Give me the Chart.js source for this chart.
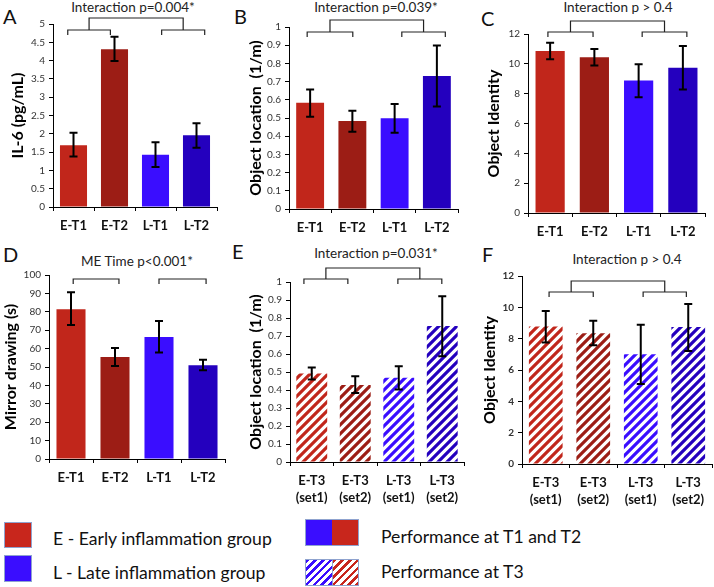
<!DOCTYPE html>
<html><head><meta charset="utf-8">
<script src="https://cdn.jsdelivr.net/npm/chart.js@4.4.1/dist/chart.umd.min.js"></script>
<style>
html,body{margin:0;padding:0;background:#fff;}
#wrap{position:relative;width:714px;height:587px;overflow:hidden;font-family:Lato,'Open Sans',sans-serif;color:#111;}
#wrap canvas{position:absolute;left:0;top:0;}
.t{position:absolute;white-space:nowrap;transform:translate(-50%,-50%);font-size:13.5px;color:#222;}
.L{position:absolute;font-size:20px;line-height:20px;color:#111;}
.lg{position:absolute;font-size:17.6px;line-height:20px;white-space:nowrap;color:#111;}
.box{position:absolute;box-sizing:border-box;border:1px solid #8FA3CF;}
</style></head><body>
<div id="wrap">
  <div class="L" style="left:3px;top:6px">A</div>
  <div class="L" style="left:234px;top:6px">B</div>
  <div class="L" style="left:481px;top:8px">C</div>
  <div class="L" style="left:3px;top:244px">D</div>
  <div class="L" style="left:232px;top:241px">E</div>
  <div class="L" style="left:482px;top:244px">F</div>
  <div class="t" style="left:133px;top:7px">Interaction p=0.004*</div>
  <div class="t" style="left:376px;top:7px">Interaction p=0.039*</div>
  <div class="t" style="left:618px;top:7px">Interaction p &gt; 0.4</div>
  <div class="t" style="left:137px;top:261px">ME Time p&lt;0.001*</div>
  <div class="t" style="left:376px;top:253px">Interaction p=0.031*</div>
  <div class="t" style="left:627px;top:259px">Interaction p &gt; 0.4</div>

  <div class="box" style="left:4px;top:522px;width:28px;height:26px;background:#C8261C"></div>
  <div class="lg" style="left:53px;top:529px">E - Early inflammation group</div>
  <div class="box" style="left:4px;top:555px;width:28px;height:27px;background:#3A0DFF"></div>
  <div class="lg" style="left:53px;top:563px">L - Late inflammation group</div>
  <div class="box" style="left:305px;top:519px;width:54px;height:27px;background:linear-gradient(90deg,#3A0DFF 50%,#C8261C 50%)"></div>
  <div class="lg" style="left:381px;top:527px">Performance at T1 and T2</div>
  <div class="box" style="left:305px;top:559px;width:27px;height:27px;border-right:none;background:repeating-linear-gradient(135deg,#3A0DFF 0 2.5px,#fff 2.5px 5.5px)"></div>
  <div class="box" style="left:332px;top:559px;width:27px;height:27px;background:repeating-linear-gradient(135deg,#C8261C 0 2.5px,#fff 2.5px 5.5px)"></div>
  <div class="lg" style="left:381px;top:562px">Performance at T3</div>
</div>
<script>
// ---------- data ----------
const catsT12 = ['E-T1', 'E-T2', 'L-T1', 'L-T2'];
const catsT3 = [['E-T3', '(set1)'], ['E-T3', '(set2)'], ['L-T3', '(set1)'], ['L-T3', '(set2)']];

const il6Mean = [1.69, 4.31, 1.43, 1.96];
const il6Lo   = [1.38, 3.99, 1.09, 1.62];
const il6Hi   = [2.03, 4.65, 1.77, 2.29];

const locMean = [0.584, 0.483, 0.498, 0.731];
const locLo   = [0.507, 0.425, 0.419, 0.563];
const locHi   = [0.657, 0.540, 0.577, 0.899];

const idMean = [10.86, 10.44, 8.88, 9.73];
const idLo   = [10.31, 9.88, 7.76, 8.28];
const idHi   = [11.42, 11.00, 9.98, 11.20];

const mirMean = [81.4, 55.5, 66.3, 51.0];
const mirLo   = [72.8, 50.6, 57.9, 48.3];
const mirHi   = [90.6, 60.3, 75.0, 53.9];

const loc3Mean = [0.491, 0.428, 0.468, 0.755];
const loc3Lo   = [0.458, 0.384, 0.403, 0.587];
const loc3Hi   = [0.525, 0.476, 0.532, 0.921];

const id3Mean = [8.77, 8.35, 7.01, 8.74];
const id3Lo   = [7.75, 7.58, 5.10, 7.22];
const id3Hi   = [9.76, 9.14, 8.89, 10.22];

const yTicksMax = {A: 5, B: 1, C: 12, D: 100, E: 1, F: 12};
const yTicksStep = {A: 0.5, B: 0.1, C: 2, D: 10, E: 0.1, F: 2};

// ---------- styling ----------
const barColors = ['#C1261B', '#9C1D15', '#3A0DFF', '#2400BE'];
Chart.defaults.font.family = 'Lato, "Open Sans", sans-serif';

function hatch(color) {
  const s = 9, c = document.createElement('canvas');
  c.width = s; c.height = s;
  const g = c.getContext('2d');
  g.fillStyle = '#fff'; g.fillRect(0, 0, s, s);
  g.strokeStyle = color; g.lineWidth = 3.2;
  g.beginPath();
  g.moveTo(-1, s + 1); g.lineTo(s + 1, -1);
  g.moveTo(-2, 2); g.lineTo(2, -2);
  g.moveTo(s - 2, s + 2); g.lineTo(s + 2, s - 2);
  g.stroke();
  return g.createPattern(c, 'repeat');
}

const XH = 44;
const panels = [
  {key:'A', cats:catsT12, mean:il6Mean, lo:il6Lo, hi:il6Hi, title:'IL-6 (pg/mL)', plot:{l:53,r:217,t:24,b:207}, axisLeft:8, bp:0.66, hatched:false, yBold:false,
   br:{l:[-0.14,0.9], r:[2.15,3.2], dy:6, top:-6}},
  {key:'B', cats:catsT12, mean:locMean, lo:locLo, hi:locHi, title:'Object location  (1/m)', plot:{l:289,r:458,t:27,b:209}, axisLeft:246, bp:0.66, hatched:false, yBold:false,
   br:{l:[-0.07,1.01], r:[2.17,3.2], dy:5, top:-7}},
  {key:'C', cats:catsT12, mean:idMean, lo:idLo, hi:idHi, title:'Object Identity', plot:{l:528,r:705,t:34,b:213}, axisLeft:484, bp:0.66, hatched:false, yBold:false,
   br:{l:[-0.05,0.97], r:[2.08,3.09], dy:-2, top:-13}},
  {key:'D', cats:catsT12, mean:mirMean, lo:mirLo, hi:mirHi, title:'Mirror drawing (s)', plot:{l:49,r:225,t:275,b:459}, axisLeft:1, bp:0.66, hatched:false, yBold:false,
   br:{l:[0.05,1.09], r:[2.0,3.07], dy:4, top:null}},
  {key:'E', cats:catsT3, mean:loc3Mean, lo:loc3Lo, hi:loc3Hi, title:'Object location  (1/m)', plot:{l:290,r:464,t:282,b:462}, axisLeft:246, bp:0.71, hatched:true, yBold:false,
   br:{l:[-0.18,0.83], r:[1.98,2.99], dy:-3, top:-14}},
  {key:'F', cats:catsT3, mean:id3Mean, lo:id3Lo, hi:id3Hi, title:'Object Identity', plot:{l:522,r:712,t:276,b:464}, axisLeft:480, bp:0.71, hatched:true, yBold:true,
   br:{l:[0.07,1.0], r:[2.05,2.96], dy:16, top:5}}
];

function extrasPlugin(p) {
  return {
    id: 'extras' + p.key,
    afterDatasetsDraw(chart) {
      const ctx = chart.ctx, ys = chart.scales.y, xs = chart.scales.x;
      const meta = chart.getDatasetMeta(0);
      ctx.save();
      ctx.strokeStyle = '#000'; ctx.lineWidth = 2;
      meta.data.forEach((bar, i) => {
        const x = bar.x, y1 = ys.getPixelForValue(p.lo[i]), y2 = ys.getPixelForValue(p.hi[i]);
        ctx.beginPath();
        ctx.moveTo(x, y1); ctx.lineTo(x, y2);
        ctx.moveTo(x - 4, y1); ctx.lineTo(x + 4, y1);
        ctx.moveTo(x - 4, y2); ctx.lineTo(x + 4, y2);
        ctx.stroke();
      });
      const top = chart.chartArea.top, b = p.br;
      const yb = top + b.dy, tick = 5;
      ctx.strokeStyle = '#222'; ctx.lineWidth = 1.2;
      const mids = [];
      [b.l, b.r].forEach(seg => {
        const x1 = xs.getPixelForValue(seg[0]), x2 = xs.getPixelForValue(seg[1]);
        ctx.beginPath();
        ctx.moveTo(x1, yb + tick); ctx.lineTo(x1, yb); ctx.lineTo(x2, yb); ctx.lineTo(x2, yb + tick);
        ctx.stroke();
        mids.push((x1 + x2) / 2);
      });
      if (b.top !== null) {
        const yt = top + b.top;
        ctx.beginPath();
        ctx.moveTo(mids[0], yb); ctx.lineTo(mids[0], yt); ctx.lineTo(mids[1], yt); ctx.lineTo(mids[1], yb);
        ctx.stroke();
      }
      ctx.restore();
    }
  };
}

const wrap = document.getElementById('wrap');
panels.forEach(p => {
  const cv = document.createElement('canvas');
  cv.width = 714; cv.height = 587;
  cv.style.width = '714px'; cv.style.height = '587px';
  wrap.appendChild(cv);
  const yW = p.plot.l - p.axisLeft;
  const colors = p.hatched ? barColors.map(hatch) : barColors;
  new Chart(cv, {
    type: 'bar',
    data: {labels: p.cats, datasets: [{data: p.mean, backgroundColor: colors, borderWidth: 0, barPercentage: p.bp, categoryPercentage: 1}]},
    options: {
      responsive: false, animation: false,
      layout: {padding: {left: p.axisLeft, right: 714 - p.plot.r, top: p.plot.t, bottom: 587 - p.plot.b - XH}},
      plugins: {legend: {display: false}, tooltip: {enabled: false}, title: {display: false}},
      scales: {
        x: {
          offset: true,
          grid: {display: true, drawOnChartArea: false, offset: true, tickLength: 4, tickColor: '#000', color: '#000'},
          border: {color: '#000', width: 1},
          ticks: {color: '#111', font: {size: 13, weight: 'bold', lineHeight: 1.3}, padding: 6, maxRotation: 0, autoSkip: false},
          afterFit: s => { s.height = XH; }
        },
        y: {
          min: 0, max: yTicksMax[p.key],
          ticks: {stepSize: yTicksStep[p.key], color: '#333', font: {size: 10, weight: p.yBold ? 'bold' : 'normal'}, padding: 4,
                  callback: v => String(Math.round(v * 100) / 100)},
          grid: {drawOnChartArea: false, tickLength: 4, tickColor: '#000', color: '#000'},
          border: {color: '#000', width: 1},
          title: {display: true, text: p.title, color: '#000', font: {size: 16, weight: 'bold', lineHeight: 1.2}, padding: 0},
          afterFit: s => { s.width = yW; }
        }
      }
    },
    plugins: [extrasPlugin(p)]
  });
});
</script>
</body></html>
